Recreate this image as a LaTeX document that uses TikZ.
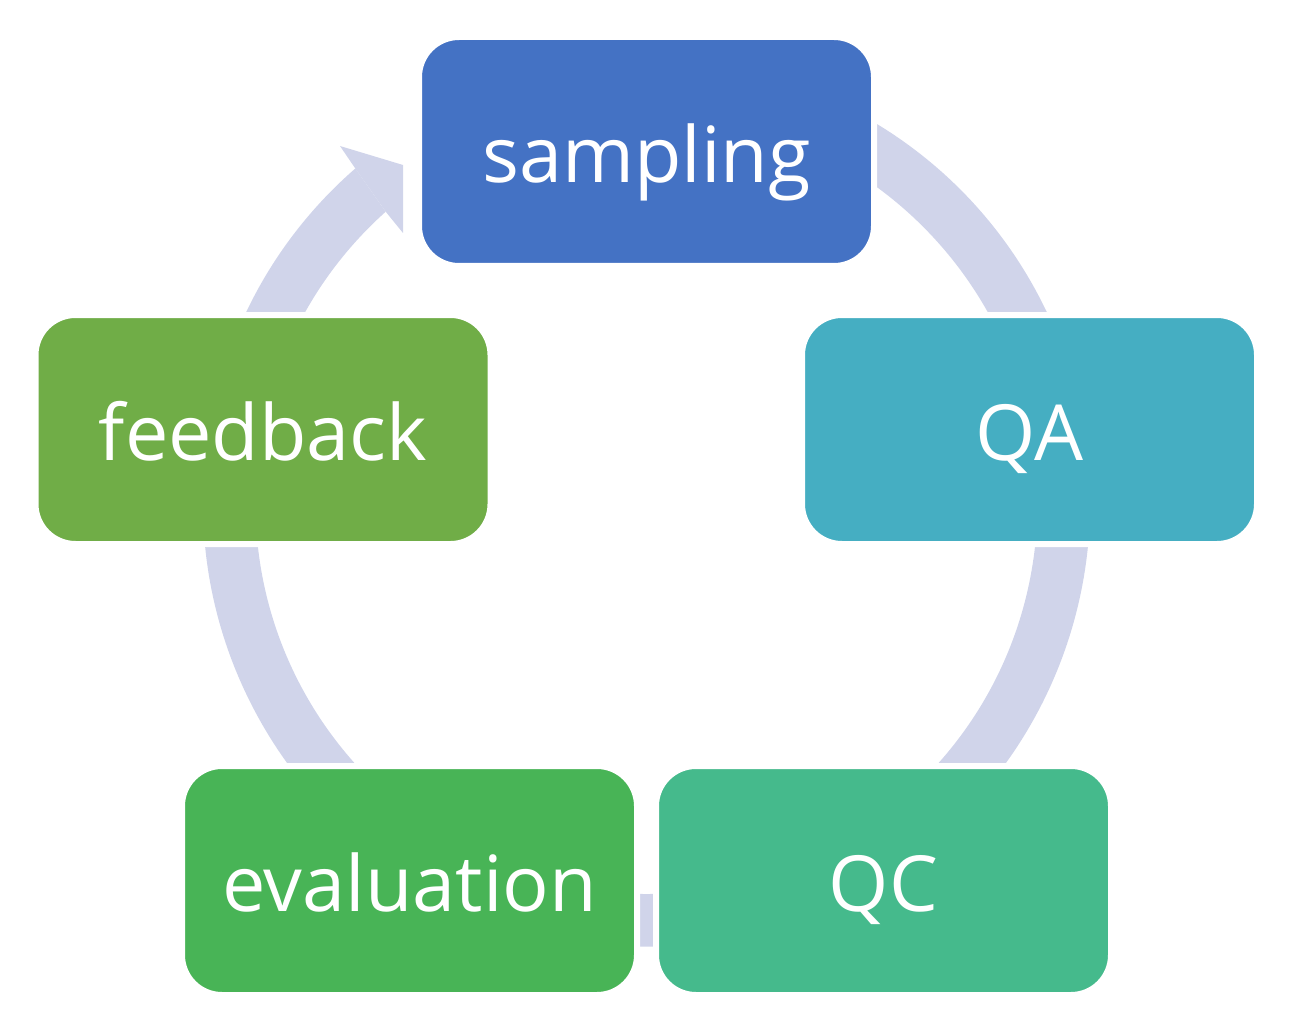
\documentclass[tikz,border=0pt]{standalone}
\usepackage{fontspec}
\setmainfont{Open Sans}
\usetikzlibrary{positioning}

\definecolor{ringcol}{HTML}{D0D4EA}
\definecolor{samplingcol}{HTML}{4472C4}
\definecolor{qacol}{HTML}{45AEC2}
\definecolor{qccol}{HTML}{45BA8C}
\definecolor{evalcol}{HTML}{48B456}
\definecolor{feedcol}{HTML}{70AD47}

\tikzset{every picture/.style={line width=0.75pt}}
\tikzset{
  stage/.style={draw=white, line width=3pt, rounded corners=20pt,
    minimum width=227.5pt, minimum height=114.5pt, inner sep=0pt,
    text=white, font=\fontsize{38.7}{44}\selectfont,
    text height=31pt, text depth=0pt},
  ring/.style={fill=ringcol, draw=none}
}

\begin{document}
\begin{tikzpicture}[x=0.5pt,y=0.5pt,yscale=-1,xscale=1]
    \useasboundingbox (0,0) rectangle (1295,1027);
    \coordinate (ctr) at (646.5,503);

    %Shape: Block Arc
    \fill[ring] (ctr) ++(245:443.5) arc[start angle=245, end angle=588.97, radius=443.5]
        -- (385.7,211.7) arc[start angle=588.17, end angle=245, radius=391] -- cycle;
    %Shape: Arrow head
    \fill[ring] (355.3,168.5) -- (340,146) -- (403,165) -- (403,233) -- (385.7,211.7) -- cycle;

    %Rounded Rect
    \node[stage, fill=samplingcol] (sampling) at (646.5,151.5) {sampling};
    %Rounded Rect
    \node[stage, fill=qacol] (qa) at (1029.5,429.5) {QA};
    %Rounded Rect
    \node[stage, fill=qccol] (qc) at (883.5,880.5) {QC};
    %Rounded Rect
    \node[stage, fill=evalcol] (evaluation) at (409.5,880.5) {evaluation};
    %Rounded Rect
    \node[stage, fill=feedcol] (feedback) at (263,429.5) {feedback};

\end{tikzpicture}
\end{document}
